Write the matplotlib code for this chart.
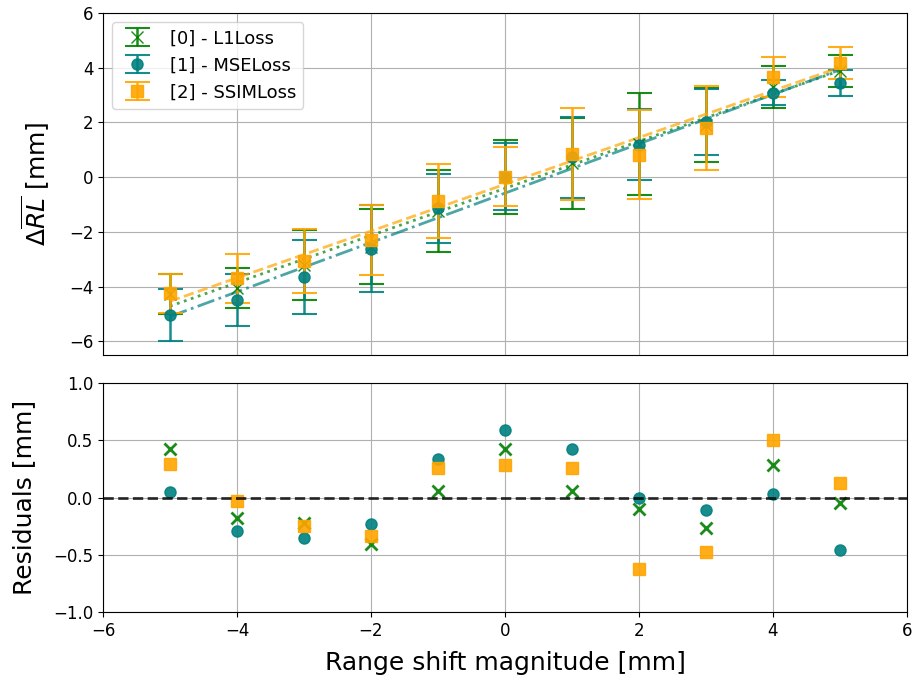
import numpy as np
import matplotlib
matplotlib.use("Agg")
from matplotlib import pyplot as plt

shifts = np.array([-5, -4, -3, -2, -1, 0, 1, 2, 3, 4, 5])

labels = ['[0] - L1Loss', '[1] - MSELoss', '[2] - SSIMLoss']
colors = ['green', 'teal', 'orange']
markers = ['x', 'o', 's']
fit_styles = [':', '-.', '--']

# mean range shift per loss
l1_mean = [-4.27, -4.05, -3.21, -2.55, -1.22, 0.00, 0.50, 1.22, 1.90, 3.29, 3.88]
mse_mean = [-5.05, -4.48, -3.64, -2.61, -1.13, 0.02, 0.72, 1.19, 2.02, 3.09, 3.45]
ssim_mean = [-4.24, -3.70, -3.07, -2.30, -0.87, 0.02, 0.85, 0.82, 1.80, 3.67, 4.16]

# standard deviations
l1_std = [0.72, 0.73, 1.29, 1.37, 1.50, 1.36, 1.67, 1.87, 1.35, 0.77, 0.59]
mse_std = [0.95, 0.95, 1.36, 1.59, 1.26, 1.23, 1.47, 1.30, 1.20, 0.46, 0.47]
ssim_std = [0.71, 0.90, 1.18, 1.27, 1.35, 1.07, 1.69, 1.63, 1.54, 0.74, 0.58]

# residuals of the linear fits
l1_res = [0.42, -0.18, -0.22, -0.41, 0.06, 0.42, 0.06, -0.10, -0.27, 0.28, -0.05]
mse_res = [0.05, -0.29, -0.35, -0.23, 0.34, 0.59, 0.42, 0.00, -0.11, 0.03, -0.46]
ssim_res = [0.29, -0.03, -0.25, -0.34, 0.26, 0.28, 0.26, -0.62, -0.48, 0.50, 0.13]

means = [l1_mean, mse_mean, ssim_mean]
stds = [l1_std, mse_std, ssim_std]
residuals = [l1_res, mse_res, ssim_res]

plt.rcParams['xtick.labelsize'] = 12
plt.rcParams['ytick.labelsize'] = 12

fig = plt.figure(figsize=(9.14, 6.81), dpi=100)
ax1 = fig.add_axes([0.1127, 0.4787, 0.8796, 0.5022])
ax2 = fig.add_axes([0.1127, 0.1013, 0.8796, 0.3363], sharex=ax1)

for i in range(3):
    ax1.errorbar(shifts, means[i], yerr=stds[i], fmt=markers[i], color=colors[i],
                 markersize=8, capsize=9, elinewidth=1.8, capthick=1.5,
                 alpha=0.9, label=labels[i])
    coef = np.polyfit(shifts, means[i], 1)
    ax1.plot(shifts, np.polyval(coef, shifts), fit_styles[i], color=colors[i],
             linewidth=2, alpha=0.7)

ax1.set_ylabel(r'$\Delta\overline{RL}$ [mm]', fontsize=18, labelpad=13)
ax1.set_ylim(-6.5, 6)
ax1.set_yticks([-6, -4, -2, 0, 2, 4, 6])
ax1.grid()
ax1.tick_params(axis='x', bottom=False, labelbottom=False)
ax1.legend(loc='upper left', fontsize=13)

for i in range(3):
    ax2.plot(shifts, residuals[i], markers[i], color=colors[i], markersize=8,
             markeredgewidth=2 if markers[i] == 'x' else 1, alpha=0.9)
ax2.axhline(0, color='black', linestyle='--', linewidth=2, alpha=0.8)
ax2.set_ylim(-1, 1)
ax2.set_yticks([-1.0, -0.5, 0.0, 0.5, 1.0])
ax2.set_xlim(-6, 6)
ax2.set_xticks([-6, -4, -2, 0, 2, 4, 6])
ax2.set_ylabel('Residuals [mm]', fontsize=18, labelpad=12)
ax2.set_xlabel('Range shift magnitude [mm]', fontsize=18, labelpad=8)
ax2.grid()

plt.savefig('out.png', dpi=100)
